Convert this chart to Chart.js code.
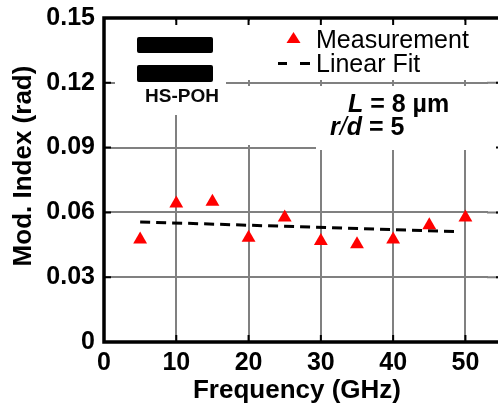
<!DOCTYPE html>
<html>
<head>
<meta charset="utf-8">
<script src="https://cdn.jsdelivr.net/npm/chart.js@4.4.1/dist/chart.umd.min.js"></script>
<style>
  html, body { margin: 0; padding: 0; background: #fff; overflow: hidden; }
  canvas { display: block; }
</style>
</head>
<body>
<canvas id="modChart" width="498" height="405"></canvas>
<script>
var freq = [5, 10, 15, 20, 25, 30, 35, 40, 45, 50];
var modIndex = [0.0475, 0.0641, 0.0649, 0.0483, 0.0576, 0.0468, 0.0452, 0.0475, 0.054, 0.0576];
var fitFreq = [5, 49];
var fitIndex = [0.0556, 0.0511];
var xTicks = [0, 10, 20, 30, 40, 50];
var yTicks = [0, 0.03, 0.06, 0.09, 0.12, 0.15];

var FONT = '"Liberation Sans", Arial, sans-serif';
var GRID = '#808080';

// draws a run of text pieces with their own fonts, left to right
function drawRuns(ctx, x, y, runs) {
    runs.forEach(function (r) {
        ctx.font = r[1];
        ctx.fillText(r[0], x, y);
        x += ctx.measureText(r[0]).width;
    });
}

var overlay = {
    id: 'overlay',
    afterDraw: function (chart) {
        var ctx = chart.ctx;
        var a = chart.chartArea;
        var W = chart.width;
        var xs = chart.scales.x, ys = chart.scales.y;
        ctx.save();

        // the plot runs on past the canvas edge: clear the strip, carry the grid through it
        ctx.fillStyle = '#fff';
        ctx.fillRect(a.right - 2, a.top + 2, W - a.right + 2, a.bottom - a.top - 3);
        ctx.strokeStyle = GRID;
        ctx.lineWidth = 2;
        ctx.beginPath();
        yTicks.forEach(function (v) {
            var py = ys.getPixelForValue(v);
            ctx.moveTo(a.right - 3, py); ctx.lineTo(W, py);
        });
        ctx.stroke();

        // white patches behind the annotations
        ctx.fillStyle = '#fff';
        ctx.fillRect(115, 21, 111, 94);
        ctx.fillRect(240, 21, 270, 59);
        ctx.fillRect(240, 86, 270, 59);
        ctx.fillRect(316, 86, 194, 64);

        // device sketch
        ctx.fillStyle = '#000';
        ctx.beginPath();
        ctx.roundRect(137, 37, 76, 16, 2);
        ctx.roundRect(137, 65, 76, 17, 2);
        ctx.fill();
        ctx.fillStyle = '#0a0a0a';
        ctx.textAlign = 'center';
        ctx.textBaseline = 'alphabetic';
        ctx.font = 'bold 19px ' + FONT;
        ctx.fillText('HS-POH', 182, 102);

        // legend
        ctx.textAlign = 'left';
        ctx.fillStyle = '#ff0000';
        ctx.beginPath();
        ctx.moveTo(293.5, 32);
        ctx.lineTo(300.5, 43);
        ctx.lineTo(286.5, 43);
        ctx.closePath();
        ctx.fill();
        ctx.fillStyle = '#000';
        ctx.font = '25px ' + FONT;
        ctx.fillText('Measurement', 316, 48);
        ctx.fillText('Linear Fit', 316, 72);
        ctx.fillRect(278, 62, 9, 3);
        ctx.fillRect(300, 62, 10, 3);

        // parameters
        var b = 'bold 25px ' + FONT, bi = 'italic bold 25px ' + FONT, ri = 'italic 25px ' + FONT;
        drawRuns(ctx, 348, 112, [['L', bi], [' = 8 \u00b5m', b]]);
        drawRuns(ctx, 330, 135, [['r', bi], ['/', ri], ['d', bi], [' = 5', b]]);

        // y axis title
        ctx.save();
        ctx.translate(24, 166);
        ctx.rotate(-Math.PI / 2);
        ctx.textAlign = 'center';
        ctx.textBaseline = 'middle';
        ctx.font = 'bold 26px ' + FONT;
        ctx.fillText('Mod. Index (rad)', 0, 0);
        ctx.restore();

        // inward tick marks; only the tips of the right-hand ones reach the canvas
        ctx.strokeStyle = '#000';
        ctx.lineWidth = 2;
        ctx.beginPath();
        xTicks.forEach(function (v) {
            var px = xs.getPixelForValue(v);
            ctx.moveTo(px, a.bottom); ctx.lineTo(px, a.bottom - 7);
            ctx.moveTo(px, a.top); ctx.lineTo(px, a.top + 7);
        });
        yTicks.forEach(function (v) {
            var py = ys.getPixelForValue(v);
            ctx.moveTo(a.left, py); ctx.lineTo(a.left + 7, py);
            ctx.moveTo(W, py); ctx.lineTo(W - 2, py);
        });
        ctx.stroke();

        // frame (left, top, bottom)
        ctx.lineWidth = 3.5;
        ctx.beginPath();
        ctx.moveTo(W, a.top);
        ctx.lineTo(a.left, a.top);
        ctx.lineTo(a.left, a.bottom);
        ctx.lineTo(W, a.bottom);
        ctx.stroke();
        ctx.restore();
    }
};

var ctx = document.getElementById('modChart').getContext('2d');
var modChart = new Chart(ctx, {
    type: 'scatter',
    data: {
        datasets: [{
            label: 'Measurement',
            data: freq.map(function (f, i) { return { x: f, y: modIndex[i] }; }),
            pointStyle: 'triangle',
            pointRadius: 8,
            pointBackgroundColor: '#ff0000',
            pointBorderWidth: 0,
            showLine: false
        }, {
            label: 'Linear Fit',
            data: fitFreq.map(function (f, i) { return { x: f, y: fitIndex[i] }; }),
            showLine: true,
            borderColor: '#000',
            borderWidth: 3,
            borderDash: [10, 6],
            pointRadius: 0,
            fill: false
        }]
    },
    options: {
        responsive: false,
        animation: false,
        devicePixelRatio: 1,
        layout: { padding: { top: 18, right: 0, left: 0, bottom: 0 } },
        plugins: {
            legend: { display: false },
            tooltip: { enabled: false }
        },
        scales: {
            x: {
                type: 'linear',
                min: 0,
                max: 53.4,
                afterFit: function (s) { s.height = 63; s.paddingLeft = 0; s.paddingRight = 0; },
                afterBuildTicks: function (s) { s.ticks = xTicks.map(function (v) { return { value: v }; }); },
                grid: { color: GRID, lineWidth: 2, drawTicks: false },
                border: { display: false },
                ticks: {
                    padding: 6,
                    color: '#000',
                    maxRotation: 0,
                    font: { family: FONT, size: 25, weight: 'bold' }
                },
                title: {
                    display: true,
                    text: 'Frequency (GHz)',
                    color: '#000',
                    padding: { top: 0, bottom: 1 },
                    font: { family: FONT, size: 26, weight: 'bold', lineHeight: 1 }
                }
            },
            y: {
                type: 'linear',
                min: 0,
                max: 0.15,
                afterFit: function (s) { s.width = 104; s.paddingTop = 0; s.paddingBottom = 0; },
                afterBuildTicks: function (s) { s.ticks = yTicks.map(function (v) { return { value: v }; }); },
                grid: { color: GRID, lineWidth: 2, drawTicks: false },
                border: { display: false },
                ticks: {
                    padding: 9,
                    color: '#000',
                    font: { family: FONT, size: 25, weight: 'bold' },
                    callback: function (v) { return v === 0 ? '0' : v.toFixed(2); }
                }
            }
        }
    },
    plugins: [overlay]
});
</script>
</body>
</html>
